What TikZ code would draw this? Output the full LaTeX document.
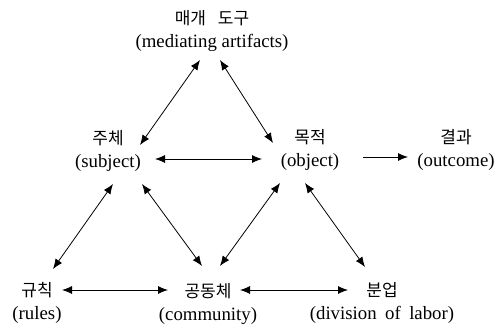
\documentclass[tikz,border=0pt]{standalone}
\usepackage{fontspec}
\setmainfont{Liberation Serif}
\newfontfamily\kr{Noto Sans CJK KR}
\usetikzlibrary{arrows.meta,calc}
\begin{document}
\begin{tikzpicture}[x=1pt,y=-1pt,
  concept/.style={align=center,inner sep=0pt,font=\fontsize{18.8}{23}\selectfont},
  arr/.style={line width=0.8pt,{Latex[length=10pt,width=8pt]}-{Latex[length=10pt,width=8pt]}},
  arrone/.style={line width=0.8pt,-{Latex[length=10pt,width=8pt]}}]
\useasboundingbox (0,0) rectangle (502,328);
\newcommand{\kl}[1]{{\kr\fontsize{17}{23}\selectfont #1}}
\node[concept] (top) at (212,31) {\kl{매개\hspace{0.7em}도구}\\(mediating artifacts)};
\node[concept] (subj) at (108,151) {\kl{주체}\\(subject)};
\node[concept] (obj) at (310,150) {\kl{목적}\\(object)};
\node[concept] (out) at (456,150) {\kl{결과}\\(outcome)};
\node[concept] (rules) at (37,303) {\kl{규칙}\\(rules)};
\node[concept] (comm) at (208,304) {\kl{공동체}\\(community)};
\node[concept] (div) at (382,303) {\kl{분업}\\(division\hspace{0.45em}of\hspace{0.45em}labor)};
\draw[arr] ($(top)+(-12,29)$) -- ($(subj)+(32,-6)$);
\draw[arr] ($(top)+(8,29)$) -- ($(obj)+(-37,-7)$);
\draw[arr] ($(subj)+(47,8)$) -- ($(obj)+(-48,9)$);
\draw[arrone] ($(obj)+(53,7)$) -- ($(out)+(-48,7)$);
\draw[arr] ($(subj)+(5,33)$) -- ($(rules)+(16,-34)$);
\draw[arr] ($(subj)+(34,33)$) -- ($(comm)+(-6,-38)$);
\draw[arr] ($(obj)+(-30,33)$) -- ($(comm)+(12,-38)$);
\draw[arr] ($(obj)+(-5,33)$) -- ($(div)+(-17,-36)$);
\draw[arr] ($(rules)+(25,-13)$) -- ($(comm)+(-40,-14)$);
\draw[arr] ($(comm)+(32,-14)$) -- ($(div)+(-34,-13)$);
\end{tikzpicture}
\end{document}
